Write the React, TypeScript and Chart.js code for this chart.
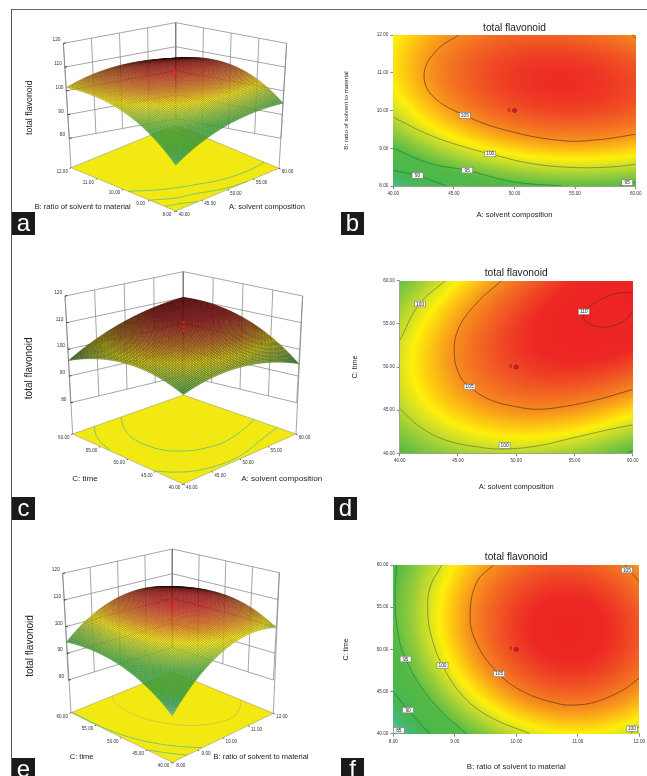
import React, { useEffect, useRef } from 'react';
import { Chart, registerables } from 'chart.js';
Chart.register(...registerables);

const FONT = '"Liberation Sans", Arial, sans-serif';

// ---------- values ----------
const factorA = [40, 60];
const factorB = [8, 12];
const factorC = [40, 60];
const ticksA = [40, 45, 50, 55, 60];
const ticksB = [8, 9, 10, 11, 12];
const ticksC = [40, 45, 50, 55, 60];
const ticksZ = [120, 110, 100, 90, 80];

// response grids: first row = highest y factor, first column = lowest x factor
const gridAB = [
  [101.5, 103.5, 104.8, 105.7, 106.4, 106.7, 106.6, 106.0, 105.0],
  [102.0, 104.0, 105.6, 107.0, 107.7, 108.0, 107.9, 107.3, 106.5],
  [102.0, 104.4, 106.0, 107.4, 108.2, 108.6, 108.6, 108.1, 107.3],
  [101.5, 104.0, 105.8, 107.2, 108.1, 108.6, 108.6, 108.1, 107.3],
  [100.0, 102.8, 104.7, 106.1, 107.0, 107.7, 107.8, 107.4, 106.7],
  [98.0, 100.6, 102.8, 104.3, 105.4, 105.9, 106.1, 105.9, 105.3],
  [95.0, 97.5, 99.8, 101.5, 102.7, 103.4, 103.7, 103.6, 103.2],
  [90.5, 93.7, 96.0, 97.8, 99.0, 99.8, 100.1, 100.0, 99.8],
  [86.0, 88.8, 91.8, 93.5, 94.6, 95.0, 95.1, 94.9, 94.7],
];
const gridAC = [
  [96.0, 99.0, 101.8, 104.0, 106.0, 107.8, 108.8, 109.4, 109.4],
  [97.7, 100.5, 103.2, 105.5, 107.3, 108.7, 109.7, 110.3, 110.3],
  [99.0, 101.8, 104.3, 106.4, 108.0, 109.1, 109.6, 110.05, 109.8],
  [100.3, 102.8, 105.0, 106.8, 108.1, 109.0, 109.4, 109.6, 109.3],
  [100.8, 103.0, 104.9, 106.5, 107.8, 108.5, 108.9, 108.9, 108.4],
  [101.0, 102.3, 104.0, 105.4, 106.5, 106.7, 106.5, 106.1, 105.0],
  [99.8, 101.6, 103.0, 104.0, 104.8, 105.0, 104.5, 103.3, 102.0],
  [97.5, 100.2, 101.3, 102.2, 102.4, 101.8, 101.1, 99.9, 99.0],
  [93.0, 96.5, 98.5, 99.4, 99.6, 99.3, 98.3, 96.6, 94.8],
];
const gridBC = [
  [94.3, 98.0, 101.9, 104.2, 105.8, 106.8, 107.0, 106.2, 104.3],
  [95.2, 99.3, 102.9, 105.6, 107.2, 108.2, 108.6, 107.7, 105.6],
  [95.4, 99.6, 103.3, 106.0, 107.8, 108.9, 109.3, 108.5, 106.6],
  [95.2, 99.5, 103.3, 106.0, 107.9, 109.0, 109.4, 108.7, 106.9],
  [94.4, 98.9, 102.8, 105.6, 107.6, 108.8, 109.1, 108.4, 106.7],
  [93.0, 97.8, 101.8, 104.8, 106.8, 108.0, 108.4, 107.7, 106.0],
  [90.0, 95.8, 100.2, 103.2, 105.2, 106.4, 106.9, 106.2, 104.7],
  [87.4, 92.9, 97.5, 100.5, 102.8, 103.9, 104.4, 103.8, 102.3],
  [84.3, 89.0, 94.0, 97.3, 99.7, 100.9, 101.3, 101.0, 99.8],
];

// contour lines [x factor, y factor]
const ab105 = [[45.4, 12], [43.6, 11.6], [42.55, 11], [43.2, 10.4], [45.9, 9.87], [49.5, 9.46], [54, 9.2], [57, 9.23], [60, 9.37]];
const ab105b = [[59.7, 12], [60, 11.9]];
const ab100 = [[40, 9.82], [43, 9.35], [45.8, 9.04], [48, 8.85], [51.3, 8.6], [54.9, 8.49], [58.2, 8.51], [60, 8.58]];
const ab95 = [[40, 9], [43, 8.6], [46, 8.42], [49.9, 8.11], [53.9, 8]];
const ab95b = [[58.7, 8], [60, 8.1]];
const ab90 = [[40, 8.42], [42, 8.27], [44.4, 8]];
const ac110 = [[60, 58.6], [58.9, 58.6], [57.5, 58], [56.3, 57], [55.8, 56.2], [55.9, 55.4], [56.9, 54.7], [58, 54.7], [59.2, 55.3], [60, 56.4]];
const ac105 = [[48.75, 60], [46.6, 57.4], [45, 54.3], [44.7, 51.2], [45.2, 48.9], [46, 47.7], [47.75, 46.2], [50, 45.4], [51.8, 45.1], [54, 45.4], [56.9, 46.2], [60, 47.4]];
const ac100 = [[43.9, 60], [41.7, 57.3], [40, 53.1]];
const ac100b = [[40, 45.2], [41.7, 43.1], [44, 41.5], [46.9, 40.7], [48.9, 40.5], [51.8, 40.85], [54.6, 41.7], [57.8, 42.7], [60, 43.3]];
const ac95 = [[59.5, 40], [60, 40.3]];
const bc105 = [[9.63, 60], [9.36, 58], [9.25, 54.3], [9.33, 51.1], [9.68, 47.35], [10.11, 45], [10.66, 43.6], [10.95, 43.4], [11.3, 43.8], [11.74, 45.2], [12, 46.6]];
const bc105b = [[11.77, 60], [12, 58]];
const bc100 = [[8.79, 60], [8.6, 57.4], [8.56, 54.5], [8.62, 51.5], [8.8, 48.1], [9.14, 44.4], [9.57, 42], [10.22, 40]];
const bc100b = [[11.85, 40], [12, 40.8]];
const bc95 = [[8.05, 60], [8.03, 55], [8.1, 51], [8.2, 48.9], [8.41, 46], [8.76, 42.8], [9.19, 40]];
const bc90 = [[8, 45], [8.24, 42.8], [8.59, 40]];
const bc85 = [[8, 40.8], [8.15, 40]];

// contour tags [x factor, y factor, text]
const tagsAB = [[45.9, 9.87, '105'], [48, 8.85, '100'], [46.1, 8.42, '95'], [42, 8.28, '90'], [59.3, 8.09, '95']];
const tagsAC = [[41.75, 57.3, '100'], [55.8, 56.4, '110'], [46, 47.7, '105'], [49, 40.9, '100']];
const tagsBC = [[11.8, 59.4, '105'], [9.72, 47.1, '105'], [8.8, 48.1, '100'], [8.2, 48.85, '95'], [8.24, 42.8, '90'], [8.09, 40.4, '85'], [11.88, 40.6, '100']];

const designPointAB = [50, 10];
const designPointAC = [50, 50];
const designPointBC = [10, 50];
const replicatesA = [108, 108.9, 110];
const replicatesC = [107.5, 109, 110.6];
const replicatesE = [108.7, 110.1, 111.6];

// ---------- styles ----------
const colorStops: [number, number[]][] = [
  [84, [110, 200, 190]], [87, [70, 184, 120]], [90, [72, 182, 78]], [95, [84, 185, 70]], [98, [150, 205, 58]],
  [100, [205, 222, 42]], [101.7, [255, 240, 10]], [103.4, [252, 190, 20]], [105, [246, 140, 30]],
  [107, [241, 90, 36]], [108.8, [237, 40, 36]], [112, [236, 28, 36]],
];
function colorFor(z: number): number[] {
  if (z <= colorStops[0][0]) return colorStops[0][1];
  for (let i = 1; i < colorStops.length; i++) {
    if (z <= colorStops[i][0]) {
      const [z0, c0] = colorStops[i - 1];
      const [z1, c1] = colorStops[i];
      const t = (z - z0) / (z1 - z0);
      return c0.map((c, k) => c + (c1[k] - c) * t);
    }
  }
  return colorStops[colorStops.length - 1][1];
}
const levelColor: Record<number, string> = { 110: '#7d2b22', 105: '#74401f', 100: '#6f8a35', 95: '#188a42', 90: '#14884a', 85: '#2a9d70' };

// smooth shading of a read grid: least-squares cubic through its values
const basis = (u: number, v: number) => [1, u, v, u * u, u * v, v * v, u * u * u, u * u * v, u * v * v, v * v * v];
const fits = new Map<number[][], number[]>();
function fitGrid(g: number[][]) {
  const cached = fits.get(g);
  if (cached) return cached;
  const n = g.length - 1, m = 10;
  const A = Array.from({ length: m }, () => new Array(m + 1).fill(0));
  g.forEach((row, r) => row.forEach((z, c) => {
    const b = basis(c / n, 1 - r / n);
    for (let i = 0; i < m; i++) {
      for (let j = 0; j < m; j++) A[i][j] += b[i] * b[j];
      A[i][m] += b[i] * z;
    }
  }));
  for (let i = 0; i < m; i++) {
    let p = i;
    for (let k = i + 1; k < m; k++) if (Math.abs(A[k][i]) > Math.abs(A[p][i])) p = k;
    [A[i], A[p]] = [A[p], A[i]];
    for (let k = 0; k < m; k++) {
      if (k === i) continue;
      const f = A[k][i] / A[i][i];
      for (let j = i; j <= m; j++) A[k][j] -= f * A[i][j];
    }
  }
  const w = A.map((row, i) => row[m] / row[i]);
  fits.set(g, w);
  return w;
}
function sampleGrid(g: number[][], u: number, v: number) {
  const w = fitGrid(g), b = basis(u, v);
  let s = 0;
  for (let i = 0; i < b.length; i++) s += w[i] * b[i];
  return s;
}

// ---------- contour panels ----------
type Rect = { l: number; t: number; r: number; b: number };
function contourChart(canvas: HTMLCanvasElement, o: any) {
  const { plot, cv } = o;
  const xr = o.xRange, yr = o.yRange;
  const titleSize = 10.2;
  const datasets: any[] = [
    { label: 'design point', data: [{ x: o.design[0], y: o.design[1] }], showLine: false, pointRadius: 2, backgroundColor: '#c8242a', borderColor: '#7a1a1a', borderWidth: 0.7, clip: false },
    ...o.contours.map((c: any) => ({
      label: 'contour ' + c.level, data: c.pts.map((p: number[]) => ({ x: p[0], y: p[1] })), showLine: true, tension: 0.4,
      borderColor: levelColor[c.level], borderWidth: 0.8, pointRadius: 0,
    })),
  ];
  const heat = {
    id: 'heat',
    beforeDatasetsDraw(ch: any) {
      const a = ch.chartArea, w = Math.round(a.right - a.left), h = Math.round(a.bottom - a.top);
      const off = document.createElement('canvas');
      off.width = w; off.height = h;
      const oc = off.getContext('2d')!;
      const img = oc.createImageData(w, h);
      for (let y = 0; y < h; y++) for (let x = 0; x < w; x++) {
        const col = colorFor(sampleGrid(o.grid, (x + 0.5) / w, 1 - (y + 0.5) / h));
        const i = (y * w + x) * 4;
        img.data[i] = col[0]; img.data[i + 1] = col[1]; img.data[i + 2] = col[2]; img.data[i + 3] = 255;
      }
      oc.putImageData(img, 0, 0);
      ch.ctx.drawImage(off, a.left, a.top, a.right - a.left, a.bottom - a.top);
    },
  };
  const tags = {
    id: 'tags',
    afterDatasetsDraw(ch: any) {
      const c = ch.ctx, sx = ch.scales.x, sy = ch.scales.y;
      c.save();
      c.font = '4.8px ' + FONT; c.textAlign = 'center'; c.textBaseline = 'middle';
      for (const [x, y, text] of o.tags) {
        const px = sx.getPixelForValue(x), py = sy.getPixelForValue(y);
        c.fillStyle = '#fff'; c.strokeStyle = '#777'; c.lineWidth = 0.6;
        c.fillRect(px - 5.5, py - 2.8, 11, 5.6); c.strokeRect(px - 5.5, py - 2.8, 11, 5.6);
        c.fillStyle = '#222'; c.fillText(text, px, py + 0.2);
      }
      c.fillStyle = '#8a1a1a'; c.font = '5.5px ' + FONT;
      c.fillText('6', sx.getPixelForValue(o.design[0]) - 5.5, sy.getPixelForValue(o.design[1]) - 0.5);
      c.restore();
    },
  };
  const axis = (min: number, max: number, ticks: number[], title: string, size: number, pad: any, fit: (s: any) => void) => ({
    type: 'linear', min, max,
    border: { display: true, color: '#8a8a6a', width: 0.8 },
    grid: { drawOnChartArea: false, drawTicks: true, tickLength: 3, color: '#333', lineWidth: 0.6 },
    afterBuildTicks(s: any) { s.ticks = ticks.map((value) => ({ value })); },
    ticks: { autoSkip: false, maxRotation: 0, minRotation: 0, padding: 2, color: '#333', font: { family: FONT, size: 4.6 }, callback: (v: number) => Number(v).toFixed(2) },
    title: { display: true, text: title, color: '#222', font: { family: FONT, size, lineHeight: 1.2 }, padding: pad },
    afterFit: fit,
  });
  const titlePadTop = o.titleY - (plot.t - 20) - 6;
  return new Chart(canvas, {
    type: 'scatter',
    data: { datasets },
    options: {
      responsive: false, animation: false,
      layout: { autoPadding: false, padding: { left: 0, right: cv.r - plot.r, top: plot.t - 20 - cv.t, bottom: 0 } },
      plugins: {
        legend: { display: false }, tooltip: { enabled: false },
        title: {
          display: true, text: 'total flavonoid', fullSize: false, color: '#222',
          font: { family: FONT, size: titleSize, weight: 'normal', lineHeight: 12 / titleSize },
          padding: { top: titlePadTop, bottom: 8 - titlePadTop },
        },
      },
      scales: {
        x: axis(xr[0], xr[1], o.xTicks, o.xTitle, o.xTitleSize, { top: 0, bottom: cv.b - o.xTitleY - o.xTitleSize * 0.6 }, (s) => { s.height = cv.b - plot.b; }),
        y: axis(yr[0], yr[1], o.yTicks, o.yTitle, o.yTitleSize, { top: o.yTitleX - cv.l - o.yTitleSize * 0.6, bottom: 0 }, (s) => { s.width = plot.l - cv.l; }),
      },
    },
    plugins: [heat, tags],
  } as any);
}

// ---------- 3D panels ----------
type Pt = number[];
type Quad = { F: Pt; R: Pt; L: Pt; B: Pt };
function bil(q: Quad, u: number, v: number, k: number) {
  return (1 - u) * (1 - v) * q.F[k] + u * (1 - v) * q.R[k] + (1 - u) * v * q.L[k] + u * v * q.B[k];
}
function surfaceChart(canvas: HTMLCanvasElement, o: any) {
  const { cv, top, bot, floor, ox, oy } = o;
  const S = (p: number[]) => ({ x: p[0] / 3 + ox, y: p[1] / 3 + oy });
  const at = (q: Quad, u: number, v: number) => S([bil(q, u, v, 0), bil(q, u, v, 1)]);
  const project = (u: number, v: number, z: number) => {
    const t = (z - 80) / 40, a = at(bot, u, v), b = at(top, u, v);
    return { x: a.x + (b.x - a.x) * t, y: a.y + (b.y - a.y) * t };
  };
  const gap = { x: null, y: null };
  const walls: any[] = [];
  for (const z of ticksZ) walls.push(project(0, 1, z), project(1, 1, z), project(1, 0, z), gap);
  for (let i = 0; i <= 4; i++) {
    walls.push(project(i / 4, 1, 120), project(i / 4, 1, 80), gap);
    walls.push(project(1, i / 4, 120), project(1, i / 4, 80), gap);
  }
  walls.push(project(0, 1, 120), at(floor, 0, 1), gap, project(1, 0, 120), at(floor, 1, 0), gap);
  const marks: any[] = [];
  for (let i = 0; i <= 4; i++) {
    const a = at(floor, 0, i / 4); marks.push(a, { x: a.x - 1.5, y: a.y + 0.8 }, gap);
    const b = at(floor, i / 4, 0); marks.push(b, { x: b.x + 1.5, y: b.y + 0.8 }, gap);
  }
  for (const z of ticksZ) { const p = project(0, 1, z); marks.push(p, { x: p.x + 2.4, y: p.y - 0.3 }, gap); }
  const toUV = (p: number[]) => at(floor, (p[0] - o.xRange[0]) / (o.xRange[1] - o.xRange[0]), (p[1] - o.yRange[0]) / (o.yRange[1] - o.yRange[0]));
  const datasets: any[] = [
    { label: 'design points', data: o.replicates.map((z: number) => project(0.5, 0.5, z)), showLine: false, pointStyle: 'rect', pointRadius: 1.6, backgroundColor: '#ee1c25', borderWidth: 0, clip: false },
    ...o.floorContours.map((c: any) => ({ label: 'floor contour', data: c.pts.map(toUV), showLine: true, tension: 0.4, borderColor: c.color, borderWidth: 0.8, pointRadius: 0, clip: false })),
    { label: 'floor', data: [at(floor, 0, 0), at(floor, 1, 0), at(floor, 1, 1), at(floor, 0, 1), at(floor, 0, 0)], showLine: true, fill: 'shape', backgroundColor: '#f2e913', borderColor: '#8a8a60', borderWidth: 0.5, pointRadius: 0, clip: false },
    { label: 'ticks', data: marks, showLine: true, borderColor: '#222', borderWidth: 0.8, pointRadius: 0, clip: false },
    { label: 'walls', data: walls, showLine: true, borderColor: '#808080', borderWidth: 0.7, pointRadius: 0, clip: false },
  ];
  const surface = {
    id: 'surface',
    beforeDatasetDraw(ch: any, args: any) {
      if (ch.data.datasets[args.index].label !== 'design points') return;
      const c = ch.ctx, sx = ch.scales.x, sy = ch.scales.y, N = o.mesh;
      const P = (iu: number, iv: number) => {
        const p = project(iu / N, iv / N, sampleGrid(o.grid, iu / N, iv / N));
        return [sx.getPixelForValue(p.x), sy.getPixelForValue(p.y)];
      };
      c.save();
      c.lineJoin = 'round';
      for (let iu = N - 1; iu >= 0; iu--) for (let iv = N - 1; iv >= 0; iv--) {
        const z = sampleGrid(o.grid, (iu + 0.5) / N, (iv + 0.5) / N);
        const col = colorFor(z).map(Math.round);
        const a = P(iu, iv), b = P(iu + 1, iv), d = P(iu + 1, iv + 1), e = P(iu, iv + 1);
        c.beginPath(); c.moveTo(a[0], a[1]); c.lineTo(b[0], b[1]); c.lineTo(d[0], d[1]); c.lineTo(e[0], e[1]); c.closePath();
        c.fillStyle = `rgb(${col[0]},${col[1]},${col[2]})`; c.fill();
        c.strokeStyle = o.meshColor; c.lineWidth = o.meshWidth; c.stroke();
      }
      c.restore();
    },
  };
  const labels = {
    id: 'labels3d',
    afterDatasetsDraw(ch: any) {
      const c = ch.ctx, sx = ch.scales.x, sy = ch.scales.y;
      const put = (text: string, x: number, y: number) => c.fillText(text, sx.getPixelForValue(x), sy.getPixelForValue(y));
      c.save();
      c.textAlign = 'center'; c.textBaseline = 'middle'; c.fillStyle = '#333';
      c.font = '4.6px ' + FONT;
      o.xTicks.forEach((t: number, i: number) => { const p = at(floor, i / 4, 0); put(t.toFixed(2), p.x + 8.5, p.y + 3.8); });
      o.yTicks.forEach((t: number, i: number) => { const p = at(floor, 0, i / 4); put(t.toFixed(2), p.x - 8.8, p.y + 3.8); });
      c.font = '4.8px ' + FONT;
      ticksZ.forEach((z) => { const p = project(0, 1, z); put(String(z), p.x - 6.8, p.y - 3.2); });
      c.fillStyle = '#222';
      c.font = o.titleSize + 'px ' + FONT;
      put(o.xTitle, o.xTitlePos[0] / 3 + ox, o.xTitlePos[1] / 3 + oy);
      put(o.yTitle, o.yTitlePos[0] / 3 + ox, o.yTitlePos[1] / 3 + oy);
      c.save();
      c.translate(sx.getPixelForValue(o.zTitlePos[0] / 3 + ox), sy.getPixelForValue(o.zTitlePos[1] / 3 + oy));
      c.rotate(-Math.PI / 2);
      c.font = o.zTitleSize + 'px ' + FONT;
      c.fillText('total flavonoid', 0, 0);
      c.restore();
      c.restore();
    },
  };
  return new Chart(canvas, {
    type: 'scatter',
    data: { datasets },
    options: {
      responsive: false, animation: false, spanGaps: false,
      layout: { autoPadding: false, padding: 0 },
      plugins: { legend: { display: false }, tooltip: { enabled: false } },
      scales: {
        x: { type: 'linear', display: false, min: cv.l, max: cv.r },
        y: { type: 'linear', display: false, min: cv.t, max: cv.b, reverse: true },
      },
    },
    plugins: [surface, labels],
  } as any);
}

const TEAL = '#62bd8c';
const panels: { cv: Rect; make: (c: HTMLCanvasElement, cv: Rect) => Chart }[] = [
  {
    cv: { l: 20, t: 12, r: 330, b: 232 },
    make: (c, cv) => surfaceChart(c, {
      cv, ox: 0, oy: 0, mesh: 80, meshColor: 'rgba(0,0,0,0.5)', meshWidth: 0.26,
      top: { F: [527, 240], R: [860, 130], L: [190, 130], B: [527, 68] },
      bot: { F: [527, 540], R: [843, 415], L: [208, 415], B: [527, 356] },
      floor: { F: [527, 633], R: [837, 505], L: [213, 503], B: [527, 375] },
      grid: gridAB, xRange: factorA, yRange: factorB, xTicks: ticksA, yTicks: ticksB, replicates: replicatesA,
      floorContours: [{ pts: ab100, color: TEAL }, { pts: ab95, color: TEAL }, { pts: ab90, color: TEAL }],
      xTitle: 'A: solvent composition', yTitle: 'B: ratio of solvent to material', titleSize: 7.6, zTitleSize: 8.9,
      xTitlePos: [801, 620], yTitlePos: [248, 620], zTitlePos: [88, 323],
    }),
  },
  {
    cv: { l: 336, t: 12, r: 647, b: 232 },
    make: (c, cv) => contourChart(c, {
      cv, plot: { l: 393.3, t: 35, r: 635.7, b: 186 }, titleY: 28, xTitleY: 215, yTitleX: 346,
      xRange: factorA, yRange: factorB, xTicks: ticksA, yTicks: ticksB, grid: gridAB, design: designPointAB, tags: tagsAB,
      contours: [{ level: 105, pts: ab105 }, { level: 105, pts: ab105b }, { level: 100, pts: ab100 }, { level: 95, pts: ab95 }, { level: 95, pts: ab95b }, { level: 90, pts: ab90 }],
      xTitle: 'A: solvent composition', yTitle: 'B: ratio of solvent to material', xTitleSize: 7.6, yTitleSize: 6.2,
    }),
  },
  {
    cv: { l: 20, t: 262, r: 330, b: 500 },
    make: (c, cv) => surfaceChart(c, {
      cv, ox: 0, oy: 260, mesh: 80, meshColor: 'rgba(0,0,0,0.68)', meshWidth: 0.34,
      top: { F: [550, 197], R: [908, 108], L: [195, 108], B: [550, 35] },
      bot: { F: [550, 525], R: [890, 428], L: [212, 428], B: [550, 347] },
      floor: { F: [550, 672], R: [888, 522], L: [218, 522], B: [550, 405] },
      grid: gridAC, xRange: factorA, yRange: factorC, xTicks: ticksA, yTicks: ticksC, replicates: replicatesC,
      floorContours: [{ pts: ac105, color: TEAL }, { pts: ac100, color: TEAL }, { pts: ac100b, color: TEAL }],
      xTitle: 'A: solvent composition', yTitle: 'C: time', titleSize: 8.1, zTitleSize: 10,
      xTitlePos: [845, 657], yTitlePos: [255, 657], zTitlePos: [88, 325],
    }),
  },
  {
    cv: { l: 340, t: 260, r: 647, b: 500 },
    make: (c, cv) => contourChart(c, {
      cv, plot: { l: 399.7, t: 280.7, r: 632.7, b: 453.3 }, titleY: 272.7, xTitleY: 487, yTitleX: 355,
      xRange: factorA, yRange: factorC, xTicks: ticksA, yTicks: ticksC, grid: gridAC, design: designPointAC, tags: tagsAC,
      contours: [{ level: 110, pts: ac110 }, { level: 105, pts: ac105 }, { level: 100, pts: ac100 }, { level: 100, pts: ac100b }, { level: 95, pts: ac95 }],
      xTitle: 'A: solvent composition', yTitle: 'C: time', xTitleSize: 7.5, yTitleSize: 7.3,
    }),
  },
  {
    cv: { l: 20, t: 540, r: 330, b: 776 },
    make: (c, cv) => surfaceChart(c, {
      cv, ox: 0, oy: 540, mesh: 80, meshColor: 'rgba(0,0,0,0.5)', meshWidth: 0.26,
      top: { F: [517, 232], R: [838, 98], L: [188, 100], B: [517, 27] },
      bot: { F: [517, 560], R: [820, 420], L: [205, 420], B: [517, 323] },
      floor: { F: [517, 667], R: [820, 520], L: [213, 518], B: [517, 395] },
      grid: gridBC, xRange: factorB, yRange: factorC, xTicks: ticksB, yTicks: ticksC, replicates: replicatesE,
      floorContours: [{ pts: bc105, color: '#e8b04a' }, { pts: bc95, color: TEAL }, { pts: bc90, color: TEAL }],
      xTitle: 'B: ratio of solvent to material', yTitle: 'C: time', titleSize: 7.5, zTitleSize: 10,
      xTitlePos: [783, 652], yTitlePos: [245, 652], zTitlePos: [90, 318],
    }),
  },
  {
    cv: { l: 336, t: 540, r: 647, b: 776 },
    make: (c, cv) => contourChart(c, {
      cv, plot: { l: 393.3, t: 565, r: 639.3, b: 733.7 }, titleY: 557, xTitleY: 766.7, yTitleX: 346,
      xRange: factorB, yRange: factorC, xTicks: ticksB, yTicks: ticksC, grid: gridBC, design: designPointBC, tags: tagsBC,
      contours: [{ level: 105, pts: bc105 }, { level: 105, pts: bc105b }, { level: 100, pts: bc100 }, { level: 100, pts: bc100b }, { level: 95, pts: bc95 }, { level: 90, pts: bc90 }, { level: 85, pts: bc85 }],
      xTitle: 'B: ratio of solvent to material', yTitle: 'C: time', xTitleSize: 7.8, yTitleSize: 7,
    }),
  },
];

const badges = [
  { text: 'a', l: 12, t: 212, h: 23 }, { text: 'b', l: 341, t: 212, h: 23 },
  { text: 'c', l: 12, t: 497, h: 23 }, { text: 'd', l: 334, t: 497, h: 23 },
  { text: 'e', l: 12, t: 758, h: 23 }, { text: 'f', l: 341, t: 758, h: 23 },
];

function Panel({ cv, make }: { cv: Rect; make: (c: HTMLCanvasElement, cv: Rect) => Chart }) {
  const ref = useRef<HTMLCanvasElement>(null);
  useEffect(() => {
    const chart = make(ref.current!, cv);
    return () => chart.destroy();
  }, []);
  return (
    <canvas ref={ref} width={cv.r - cv.l} height={cv.b - cv.t}
      style={{ position: 'absolute', left: cv.l, top: cv.t, width: cv.r - cv.l, height: cv.b - cv.t, display: 'block' }} />
  );
}

export default function App() {
  return (
    <div style={{ position: 'absolute', left: 0, top: 0, width: 647, height: 776, overflow: 'hidden', background: '#fff', filter: 'blur(0.45px)' }}>
      <div style={{ position: 'absolute', left: 11, top: 9, width: 636, height: 1.4, background: '#666' }} />
      <div style={{ position: 'absolute', left: 11, top: 9, width: 1.2, height: 767, background: '#555' }} />
      {panels.map((p, i) => <Panel key={i} cv={p.cv} make={p.make} />)}
      {badges.map((b) => (
        <div key={b.text} style={{ position: 'absolute', left: b.l, top: b.t, width: 23, height: b.h, background: '#1a1a1a', color: '#fff', font: `24px/21px ${FONT}`, textAlign: 'center' }}>{b.text}</div>
      ))}
    </div>
  );
}
